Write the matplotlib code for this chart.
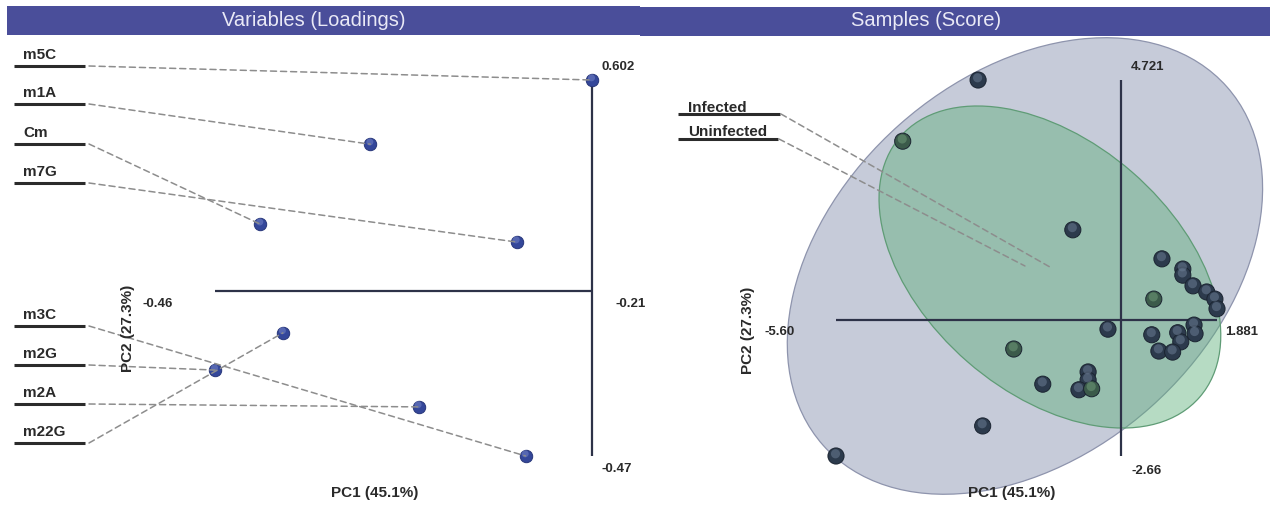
import matplotlib
matplotlib.use("Agg")
import matplotlib.pyplot as plt
import matplotlib.transforms as mtransforms
from matplotlib.patches import Ellipse, Rectangle, ConnectionPatch
from matplotlib.lines import Line2D

# ---------------- data ----------------
panel_titles = ["Variables (Loadings)", "Samples (Score)"]
axis_label_pc1 = "PC1 (45.1%)"
axis_label_pc2 = "PC2 (27.3%)"

# loadings of the modified nucleosides
variables = ["m5C", "m1A", "Cm", "m7G", "m3C", "m2G", "m2A", "m22G"]
loading_pc1 = [-0.21, -0.357, -0.430, -0.260, -0.254, -0.46, -0.325, -0.415]
loading_pc2 = [0.602, 0.419, 0.191, 0.140, -0.47, -0.225, -0.330, -0.119]

# sample scores
score_pc1 = [-2.81, -4.29, -0.95, 0.80, 1.21, 1.21, 1.41, 1.68, 1.84, 1.881,
             0.64, -0.26, 0.60, 1.11, 1.43, 1.45, 1.17, 0.74, 1.01, -2.11,
             -1.54, -0.65, -0.65, -0.83, -0.58, -2.72, -5.60]
score_pc2 = [4.721, 3.52, 1.78, 1.21, 1.01, 0.89, 0.68, 0.56, 0.42, 0.23,
             0.42, -0.17, -0.28, -0.24, -0.09, -0.26, -0.42, -0.60, -0.62, -0.56,
             -1.25, -1.01, -1.17, -1.36, -1.34, -2.07, -2.66]
# samples rendered with a green cast
green_cast = [1, 10, 19, 24]

# group confidence ellipses
groups = ["Infected", "Uninfected"]
ellipse_center_pc1 = [-1.40, -1.89]
ellipse_center_pc2 = [1.05, 1.07]
ellipse_width = [7.79, 10.60]
ellipse_height = [4.93, 7.42]
ellipse_angle = [-41.0, 41.6]


def fmt(v):
    return f"{v:.3f}" if v >= 0 else f"{v:.2f}"


# ---------------- figure ----------------
W, H, DPI = 1270, 531, 100
FONT = ["Liberation Sans", "DejaVu Sans"]
plt.rcParams["font.family"] = FONT

fig = plt.figure(figsize=(W / DPI, H / DPI), dpi=DPI)
fig.patch.set_facecolor("white")
# top-left pixel coordinates
PX = mtransforms.Affine2D().scale(1.0 / W, -1.0 / H).translate(0, 1) + fig.transFigure

AXIS_COL = "#2d3248"
DASH_COL = "#8d8d8d"
DASH = (0, (4.0, 2.6))
TXT_COL = "#2a2a2a"


def add_axes_px(x0, x1):
    ax = fig.add_axes([x0 / W, 0, (x1 - x0) / W, 1])
    ax.set_axis_off()
    return ax


def map_limits(ax, x0_px, xmin, xmax, xmin_px, xmax_px, ymin, ymax, ymax_px, ymin_px, width_px):
    sx = (xmax_px - xmin_px) / (xmax - xmin)
    sy = (ymin_px - ymax_px) / (ymax - ymin)
    ax.set_xlim(xmin - (xmin_px - x0_px) / sx, xmin + (x0_px + width_px - xmin_px) / sx)
    ax.set_ylim(ymax - (H - ymax_px) / sy, ymax + ymax_px / sy)


def spheres(ax, xs, ys, size, base, edge, hi, z):
    ax.scatter(xs, ys, s=size, c=base, edgecolors=edge, linewidths=0.7, zorder=z)
    off = mtransforms.offset_copy(ax.transData, fig=fig, x=-0.5, y=2.2, units="dots")
    ax.scatter(xs, ys, s=size * 0.32, c=hi, edgecolors="none", alpha=0.55,
               zorder=z + 0.1, transform=off)


def label_with_rule(text, x_text, x0, x1, y_rule, baseline_gap):
    fig.text(x_text, y_rule - baseline_gap, text, transform=PX, fontsize=11,
             fontweight="bold", color=TXT_COL, ha="left", va="baseline")
    fig.add_artist(Line2D([x0, x1], [y_rule, y_rule], transform=PX,
                          color="#2b2b2b", lw=2.2, solid_capstyle="butt"))


# ---------------- title bars ----------------
BAR_COL = "#4a4e9a"
fig.add_artist(Rectangle((7, 6), 633, 29, transform=PX, facecolor=BAR_COL,
                         edgecolor="none", zorder=5))
fig.add_artist(Rectangle((640, 7), 630, 29, transform=PX, facecolor=BAR_COL,
                         edgecolor="none", zorder=5))
fig.text(314, 21, panel_titles[0], transform=PX, ha="center", va="center",
         fontsize=14.5, color="#e9e9f6", zorder=6)
fig.text(926, 21, panel_titles[1], transform=PX, ha="center", va="center",
         fontsize=14.5, color="#e9e9f6", zorder=6)

# ---------------- loadings panel ----------------
axL = add_axes_px(0, 640)
lx_min, lx_max = min(loading_pc1), max(loading_pc1)
ly_min, ly_max = min(loading_pc2), max(loading_pc2)
map_limits(axL, 0, lx_min, lx_max, 215, 592, ly_min, ly_max, 80, 456, 640)

axL.plot([lx_min, lx_max], [0, 0], color=AXIS_COL, lw=1.6, zorder=2, solid_capstyle="butt")
axL.plot([lx_max, lx_max], [ly_min, ly_max], color=AXIS_COL, lw=1.6, zorder=2,
         solid_capstyle="butt")

num_kw = dict(fontsize=9.5, fontweight="bold", color=TXT_COL, textcoords="offset pixels")
axL.annotate(fmt(lx_min), (lx_min, 0), xytext=(-42, -13), ha="right", va="center", **num_kw)
axL.annotate(fmt(lx_max), (lx_max, 0), xytext=(23, -13), ha="left", va="center", **num_kw)
axL.annotate(fmt(ly_max), (lx_max, ly_max), xytext=(10, 13), ha="left", va="center", **num_kw)
axL.annotate(fmt(ly_min), (lx_max, ly_min), xytext=(10, -13), ha="left", va="center", **num_kw)

rule_y = [66, 104, 144, 183, 326, 365, 404, 443]
for name, px_, py_, ry in zip(variables, loading_pc1, loading_pc2, rule_y):
    label_with_rule(name, 23, 14, 85, ry, 7)
    con = ConnectionPatch(xyA=(89, ry), coordsA=PX, xyB=(px_, py_), coordsB=axL.transData,
                          color=DASH_COL, lw=1.1, linestyle=DASH, zorder=3)
    fig.add_artist(con)

spheres(axL, loading_pc1, loading_pc2, 80, "#34479a", "#27367a", "#7383c6", 6)

fig.text(128, 328, axis_label_pc2, transform=PX, rotation=90, ha="center", va="center",
         fontsize=11, fontweight="bold", color=TXT_COL)
fig.text(375, 493, axis_label_pc1, transform=PX, ha="center", va="center",
         fontsize=11, fontweight="bold", color=TXT_COL)

# ---------------- scores panel ----------------
axR = add_axes_px(640, 1270)
sx_min, sx_max = min(score_pc1), max(score_pc1)
sy_min, sy_max = min(score_pc2), max(score_pc2)
map_limits(axR, 640, sx_min, sx_max, 836, 1217, sy_min, sy_max, 80, 456, 630)

ell_face = ["#5fb07a", "#c6cbd9"]
ell_edge = ["#5f9c76", "#8e94ad"]
ell_alpha = [0.45, 1.0]
for i in (1, 0):
    e = Ellipse((ellipse_center_pc1[i], ellipse_center_pc2[i]), ellipse_width[i],
                ellipse_height[i], angle=ellipse_angle[i], facecolor=ell_face[i],
                edgecolor="none", alpha=ell_alpha[i], zorder=1 + (1 - i))
    axR.add_patch(e)
    e2 = Ellipse((ellipse_center_pc1[i], ellipse_center_pc2[i]), ellipse_width[i],
                 ellipse_height[i], angle=ellipse_angle[i], facecolor="none",
                 edgecolor=ell_edge[i], lw=0.9, zorder=1.5 + (1 - i))
    axR.add_patch(e2)

axR.plot([sx_min, sx_max], [0, 0], color=AXIS_COL, lw=1.6, zorder=4, solid_capstyle="butt")
axR.plot([0, 0], [sy_min, sy_max], color=AXIS_COL, lw=1.6, zorder=4, solid_capstyle="butt")

axR.annotate(fmt(sx_min), (sx_min, 0), xytext=(-41, -12), ha="right", va="center", **num_kw)
axR.annotate(fmt(sx_max), (sx_max, 0), xytext=(8, -12), ha="left", va="center", **num_kw)
axR.annotate(fmt(sy_max), (0, sy_max), xytext=(10, 13), ha="left", va="center", **num_kw)
axR.annotate(fmt(sy_min), (0, sy_min), xytext=(10, -15), ha="left", va="center", **num_kw)

legend_rule_y = [114, 139]
legend_rule_end = [780, 778]
for gi, (g, ry, rx) in enumerate(zip(groups, legend_rule_y, legend_rule_end)):
    label_with_rule(g, 688, 678, rx, ry, 2.5)
    con = ConnectionPatch(xyA=(rx + 1, ry), coordsA=PX,
                          xyB=(ellipse_center_pc1[gi], ellipse_center_pc2[gi]),
                          coordsB=axR.transData, color=DASH_COL, lw=1.1,
                          linestyle=DASH, zorder=5)
    fig.add_artist(con)

base_cols = ["#3b5a4a" if k in green_cast else "#2c3a4c" for k in range(len(score_pc1))]
hi_cols = ["#6f9a78" if k in green_cast else "#6a7b92" for k in range(len(score_pc1))]
spheres(axR, score_pc1, score_pc2, 135, base_cols, "#1b2431", hi_cols, 6)

fig.text(748, 330, axis_label_pc2, transform=PX, rotation=90, ha="center", va="center",
         fontsize=11, fontweight="bold", color=TXT_COL)
fig.text(1012, 493, axis_label_pc1, transform=PX, ha="center", va="center",
         fontsize=11, fontweight="bold", color=TXT_COL)

fig.savefig("out.png", dpi=DPI, facecolor="white")
